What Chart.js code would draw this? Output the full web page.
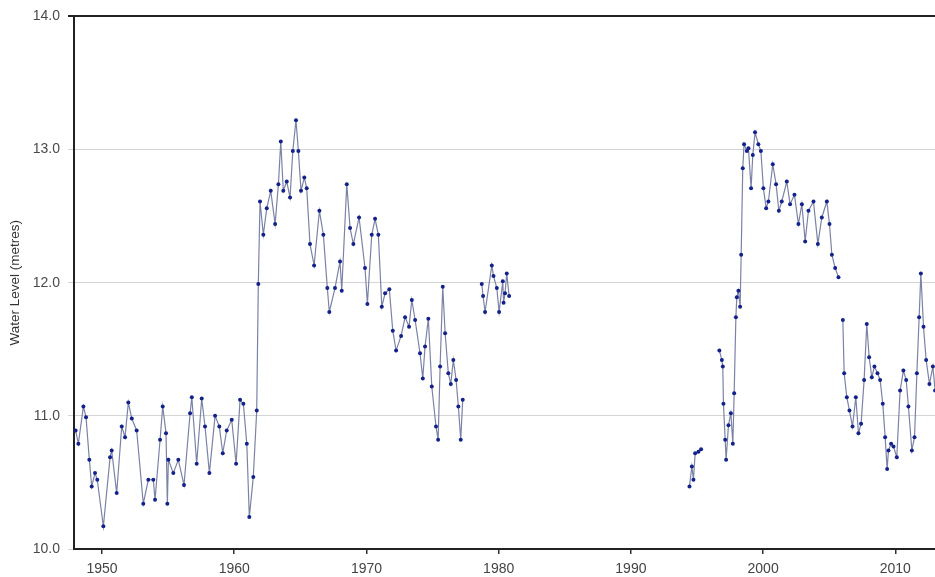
<!DOCTYPE html>
<html>
<head>
<meta charset="utf-8">
<script src="https://cdn.jsdelivr.net/npm/chart.js@4/dist/chart.umd.min.js"></script>
<style>
  html, body { margin: 0; padding: 0; background: #fff; }
  #wrap { width: 935px; height: 577px; }
</style>
</head>
<body>
<div id="wrap"><canvas id="nivel" width="935" height="577"></canvas></div>
<script>
// anos (decimal) e nível da água em metros; null = sem registo
var anos = [
  1948.0, 1948.21, 1948.59, 1948.79, 1949.04, 1949.22, 1949.47, 1949.64, 1950.10, 1950.61,
  1950.73, 1951.11, 1951.49, 1951.74, 1951.99, 1952.25, 1952.62, 1953.12, 1953.50, 1953.88,
  1954.01, 1954.39, 1954.59, 1954.84, 1954.94, 1955.02, 1955.39, 1955.77, 1956.20, 1956.66,
  1956.79, 1957.16, 1957.54, 1957.79, 1958.12, 1958.55, 1958.87, 1959.13, 1959.43, 1959.81,
  1960.14, 1960.44, 1960.69, 1960.95, 1961.14, 1961.44, 1961.70, 1961.82, 1961.95, 1962.20,
  1962.46, 1962.76, 1963.09, 1963.34, 1963.52, 1963.71, 1963.97, 1964.22, 1964.43, 1964.67,
  1964.85, 1965.05, 1965.30, 1965.48, 1965.73, 1966.04, 1966.44, 1966.74, 1967.04, 1967.19,
  1967.62, 1968.00, 1968.13, 1968.51, 1968.76, 1969.01, 1969.44, 1969.89, 1970.07, 1970.40,
  1970.65, 1970.90, 1971.16, 1971.41, 1971.73, 1971.99, 1972.24, 1972.62, 1972.92, 1973.22,
  1973.43, 1973.68, 1974.05, 1974.26, 1974.43, 1974.68, 1974.94, 1975.26, 1975.42, 1975.57,
  1975.77, 1975.95, 1976.19, 1976.38, 1976.57, 1976.78, 1976.95, 1977.13, 1977.28, 1978.0,
  1978.72, 1978.82, 1978.97, 1979.48, 1979.61, 1979.86, 1980.03, 1980.31, 1980.37, 1980.48,
  1980.61, 1980.79, 1985.0,
  1994.43, 1994.61, 1994.73, 1994.86, 1995.11, 1995.31, 1996.0,
  1996.69, 1996.88, 1996.95, 1997.00, 1997.13, 1997.20, 1997.38, 1997.56, 1997.71, 1997.81,
  1997.94, 1998.01, 1998.13, 1998.26, 1998.34, 1998.46, 1998.56, 1998.77, 1998.89, 1999.09,
  1999.22, 1999.39, 1999.64, 1999.83, 2000.02, 2000.23, 2000.40, 2000.73, 2000.98, 2001.19,
  2001.41, 2001.79, 2002.04, 2002.37, 2002.67, 2002.93, 2003.18, 2003.43, 2003.81, 2004.14,
  2004.44, 2004.82, 2005.02, 2005.20, 2005.45, 2005.70, 2005.85,
  2006.03, 2006.13, 2006.33, 2006.53, 2006.76, 2007.01, 2007.21, 2007.41, 2007.64, 2007.84,
  2008.02, 2008.22, 2008.42, 2008.65, 2008.85, 2009.05, 2009.23, 2009.38, 2009.48, 2009.68,
  2009.86, 2010.11, 2010.36, 2010.61, 2010.82, 2010.99, 2011.25, 2011.45, 2011.63, 2011.80,
  2011.93, 2012.13, 2012.33, 2012.58, 2012.84, 2013.01
];
var nivel = [
  10.89, 10.79, 11.07, 10.99, 10.67, 10.47, 10.57, 10.52, 10.17, 10.69,
  10.74, 10.42, 10.92, 10.84, 11.10, 10.98, 10.89, 10.34, 10.52, 10.52,
  10.37, 10.82, 11.07, 10.87, 10.34, 10.67, 10.57, 10.67, 10.48, 11.02,
  11.14, 10.64, 11.13, 10.92, 10.57, 11.00, 10.92, 10.72, 10.89, 10.97,
  10.64, 11.12, 11.09, 10.79, 10.24, 10.54, 11.04, 11.99, 12.61, 12.36,
  12.56, 12.69, 12.44, 12.74, 13.06, 12.69, 12.76, 12.64, 12.99, 13.22,
  12.99, 12.69, 12.79, 12.71, 12.29, 12.13, 12.54, 12.36, 11.96, 11.78,
  11.96, 12.16, 11.94, 12.74, 12.41, 12.29, 12.49, 12.11, 11.84, 12.36,
  12.48, 12.36, 11.82, 11.92, 11.95, 11.64, 11.49, 11.60, 11.74, 11.67,
  11.87, 11.72, 11.47, 11.28, 11.52, 11.73, 11.22, 10.92, 10.82, 11.37,
  11.97, 11.62, 11.32, 11.24, 11.42, 11.27, 11.07, 10.82, 11.12, null,
  11.99, 11.90, 11.78, 12.13, 12.05, 11.96, 11.78, 12.01, 11.85, 11.92,
  12.07, 11.90, null,
  10.47, 10.62, 10.52, 10.72, 10.73, 10.75, null,
  11.49, 11.42, 11.37, 11.09, 10.82, 10.67, 10.93, 11.02, 10.79, 11.17,
  11.74, 11.89, 11.94, 11.82, 12.21, 12.86, 13.04, 12.99, 13.01, 12.71,
  12.96, 13.13, 13.04, 12.99, 12.71, 12.56, 12.61, 12.89, 12.74, 12.54,
  12.61, 12.76, 12.59, 12.66, 12.44, 12.59, 12.31, 12.54, 12.61, 12.29,
  12.49, 12.61, 12.44, 12.21, 12.11, 12.04, null,
  11.72, 11.32, 11.14, 11.04, 10.92, 11.14, 10.87, 10.94, 11.27, 11.69,
  11.44, 11.29, 11.37, 11.32, 11.27, 11.09, 10.84, 10.60, 10.74, 10.79,
  10.77, 10.69, 11.19, 11.34, 11.27, 11.07, 10.74, 10.84, 11.32, 11.74,
  12.07, 11.67, 11.42, 11.24, 11.37, 11.19
];
var marcasY = [10, 11, 12, 13, 14];
var marcasX = [1950, 1960, 1970, 1980, 1990, 2000, 2010];

var pontos = anos.map(function (a, i) { return { x: a, y: nivel[i] }; });

var ctx = document.getElementById("nivel").getContext("2d");
new Chart(ctx, {
    type: "line",
    data: {
        datasets: [{
            label: "Water Level",
            data: pontos,
            borderColor: "#7c82a6",
            borderWidth: 1.2,
            pointRadius: 2,
            pointBackgroundColor: "#13228a",
            pointBorderWidth: 0,
            spanGaps: false,
            tension: 0
        }]
    },
    options: {
        responsive: false,
        animation: false,
        layout: { autoPadding: false, padding: { top: 15, right: 0, left: 0, bottom: 0 } },
        plugins: { legend: { display: false }, tooltip: { enabled: false } },
        scales: {
            x: {
                type: "linear",
                min: 1947.88,
                max: 2013.0,
                afterBuildTicks: function (s) { s.ticks = marcasX.map(function (v) { return { value: v }; }); },
                afterFit: function (s) { s.height = 28; },
                ticks: {
                    color: "#444",
                    font: { family: "Liberation Sans, Arial, sans-serif", size: 14 },
                    padding: 7,
                    maxRotation: 0,
                    callback: function (v) { return String(v); }
                },
                grid: { drawOnChartArea: false, drawTicks: true, tickLength: 5, color: "#333", lineWidth: 1.5 },
                border: { display: true, color: "#222", width: 2 }
            },
            y: {
                min: 10,
                max: 14,
                afterBuildTicks: function (s) { s.ticks = marcasY.map(function (v) { return { value: v }; }); },
                afterFit: function (s) { s.width = 74; },
                ticks: {
                    color: "#4a4a4a",
                    font: { family: "Liberation Sans, Arial, sans-serif", size: 14 },
                    padding: 8,
                    callback: function (v) { return v.toFixed(1); }
                },
                title: {
                    display: true,
                    text: "Water Level (metres)",
                    color: "#333",
                    font: { family: "Liberation Sans, Arial, sans-serif", size: 13.5 },
                    padding: { top: 7, bottom: 0 }
                },
                grid: {
                    drawTicks: true,
                    tickLength: 6,
                    color: function (c) { return c.tick && c.tick.value === 14 ? "#222" : "#d4d4d4"; },
                    lineWidth: function (c) { return c.tick && c.tick.value === 14 ? 2 : 1; }
                },
                border: { display: true, color: "#222", width: 2 }
            }
        }
    }
});
</script>
</body>
</html>
